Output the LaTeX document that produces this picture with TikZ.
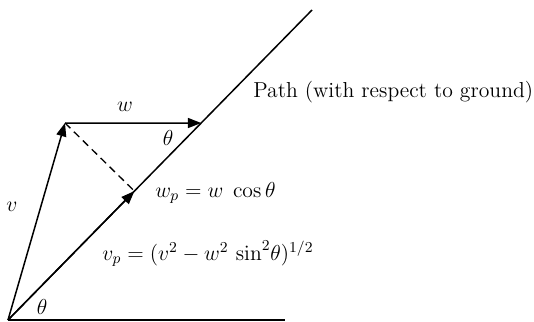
\RequirePackage{fix-cm}
\documentclass[tikz,border=0pt]{standalone}
\usepackage{amsmath}
\usepackage{tikz}
\usetikzlibrary{arrows.meta, calc}

\begin{document}
\begin{tikzpicture}[
  x=0.6pt, y=-0.6pt,
  line/.style={line width=0.9pt},
  vec/.style={line width=0.9pt, -{Triangle[length=8pt, width=6pt]}},
  proj/.style={line width=0.8pt, dash pattern=on 4.5pt off 3pt},
  lbl/.style={inner sep=0pt, font=\fontsize{13}{16}\selectfont}
]
  \useasboundingbox (0,0) rectangle (534,322);

  % ground, path and the triangle of velocities
  \coordinate (O)  at (8,320);
  \coordinate (E)  at (312,10);
  \coordinate (G)  at (285,320);
  \coordinate (A)  at (65,123);
  \coordinate (Ah) at (400,123);
  \coordinate (B)  at (intersection of A--Ah and O--E);
  \coordinate (F)  at ($(O)!(A)!(E)$);

  \draw[line] (O) -- (G);
  \draw[line] (O) -- (E);
  \draw[vec]  (O) -- (A);
  \draw[vec]  (A) -- (B);
  \draw[vec]  (O) -- (F);
  \draw[proj] (A) -- (F);

  \node[lbl] (wlbl)  at (125,107) {$w$};
  \node[lbl] (thtop) at (168,138) {$\theta$};
  \node[lbl] (vlbl)  at (12,207)  {$v$};
  \node[lbl] (thbot) at (42,307)  {$\theta$};
  \node[lbl, anchor=base west] (wp)   at (155,197) {$w_p = w\;\cos\theta$};
  \node[lbl, anchor=base west] (vp)   at (102,260) {$v_p = (v^2 - w^2\,\sin^2\!\theta)^{1/2}$};
  \node[lbl, anchor=base west] (path) at (253,97)  {Path (with respect to ground)};
\end{tikzpicture}
\end{document}
